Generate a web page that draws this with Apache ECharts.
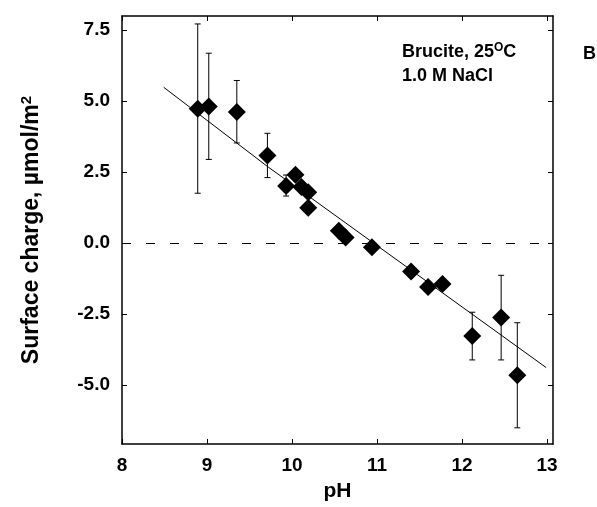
<!DOCTYPE html>
<html>
<head>
<meta charset="utf-8">
<script src="https://cdn.jsdelivr.net/npm/echarts@6/dist/echarts.min.js"></script>
<style>
html,body{margin:0;padding:0;background:#fff;}
#chart{width:597px;height:507px;}
</style>
</head>
<body>
<div id="chart"></div>
<script>
// ---- data ----
var phValues = [8.89, 9.02, 9.35, 9.71, 9.93, 10.04, 10.11, 10.19, 10.19, 10.55, 10.63, 10.94, 11.40, 11.60, 11.77, 12.12, 12.46, 12.65];
var chargeValues = [4.73, 4.81, 4.62, 3.09, 2.01, 2.41, 1.98, 1.79, 1.25, 0.44, 0.20, -0.14, -1.00, -1.54, -1.44, -3.27, -2.62, -4.65];

var errPh   = [8.89, 9.02, 9.35, 9.71, 9.93, 12.12, 12.46, 12.65];
var errLow  = [1.76, 2.95, 3.53, 2.31, 1.66, -4.11, -4.11, -6.50];
var errHigh = [7.72, 6.69, 5.73, 3.87, 2.40, -2.43, -1.13, -2.80];

var fitPh = [8.49, 9.72, 12.99];
var fitCharge = [5.49, 2.68, -4.38];

var xTicks = [8, 9, 10, 11, 12, 13];
var yTicks = [-5, -2.5, 0, 2.5, 5, 7.5];

var xMin = 7.999, xMax = 13.07;
var yMin = -7.07, yMax = 8.0;

// ---- build ----
var points = phValues.map(function (x, i) { return [x, chargeValues[i]]; });
var errData = errPh.map(function (x, i) { return [x, errLow[i], errHigh[i]]; });
var fitData = fitPh.map(function (x, i) { return [x, fitCharge[i]]; });

var FONT = '"Liberation Sans", Arial, sans-serif';
var chart = echarts.init(document.getElementById('chart'), null, {renderer: 'canvas'});

var axisLine = {show: true, onZero: false, lineStyle: {color: '#000', width: 1.5}};

chart.setOption({
  backgroundColor: '#fff',
  animation: false,
  grid: {left: 122, top: 16, right: 44, bottom: 60, containLabel: false},
  xAxis: [{
    type: 'value', min: xMin, max: xMax, position: 'bottom',
    axisLine: axisLine,
    axisTick: {show: true, inside: true, length: 5, lineStyle: {color: '#000', width: 1}, customValues: xTicks},
    axisLabel: {show: true, customValues: xTicks, margin: 12, color: '#000', fontFamily: FONT, fontWeight: 'bold', fontSize: 19},
    splitLine: {show: false},
    name: 'pH', nameLocation: 'middle', nameGap: 37,
    nameTextStyle: {color: '#000', fontFamily: FONT, fontWeight: 'bold', fontSize: 21}
  }, {
    type: 'value', min: xMin, max: xMax, position: 'top',
    axisLine: axisLine,
    axisTick: {show: true, inside: true, length: 5, lineStyle: {color: '#000', width: 1}, customValues: xTicks},
    axisLabel: {show: false},
    splitLine: {show: false}
  }],
  yAxis: [{
    type: 'value', min: yMin, max: yMax, position: 'left',
    axisLine: axisLine,
    axisTick: {show: true, inside: true, length: 5, lineStyle: {color: '#000', width: 1}, customValues: yTicks},
    axisLabel: {show: true, customValues: yTicks, margin: 12, color: '#000', fontFamily: FONT, fontWeight: 'bold', fontSize: 19,
      formatter: function (v) { return v.toFixed(1); }},
    splitLine: {show: false},
    name: '{t|Surface charge, \u00b5mol/m}{sup|2}', nameLocation: 'middle', nameGap: 77, nameRotate: 90,
    nameTextStyle: {color: '#000', fontFamily: FONT, fontWeight: 'bold', fontSize: 23,
      rich: {
        t: {color: '#000', fontFamily: FONT, fontWeight: 'bold', fontSize: 23},
        sup: {color: '#000', fontFamily: FONT, fontWeight: 'bold', fontSize: 15, verticalAlign: 'top', padding: [0, 0, 11, 0]}
      }}
  }, {
    type: 'value', min: yMin, max: yMax, position: 'right',
    axisLine: axisLine,
    axisTick: {show: true, inside: true, length: 5, lineStyle: {color: '#000', width: 1}, customValues: yTicks},
    axisLabel: {show: false},
    splitLine: {show: false}
  }],
  graphic: [
    {type: 'text', left: 402, top: 42, style: {text: '{a|Brucite, 25}{s|O}{a|C}', rich: {
      a: {fontFamily: FONT, fontWeight: 'bold', fontSize: 18, fill: '#000'},
      s: {fontFamily: FONT, fontWeight: 'bold', fontSize: 12, fill: '#000', padding: [0, 0, 9, 0]}
    }}},
    {type: 'text', left: 402, top: 67, style: {text: '1.0 M NaCl', fontFamily: FONT, fontWeight: 'bold', fontSize: 18, fill: '#000'}},
    {type: 'text', left: 583, top: 45, style: {text: 'B', fontFamily: FONT, fontWeight: 'bold', fontSize: 18, fill: '#000'}}
  ],
  series: [{
    type: 'line', data: fitData, showSymbol: false, symbol: 'none',
    lineStyle: {color: '#000', width: 1}, z: 2,
    markLine: {
      silent: true, symbol: ['none', 'none'], label: {show: false},
      lineStyle: {color: '#000', width: 1, type: [9, 15], opacity: 1},
      emphasis: {disabled: true},
      data: [{yAxis: 0}]
    }
  }, {
    type: 'custom', data: errData, z: 3,
    encode: {x: 0, y: [1, 2]},
    renderItem: function (params, api) {
      var x = api.value(0);
      var lo = api.coord([x, api.value(1)]);
      var hi = api.coord([x, api.value(2)]);
      var c = 3;
      var st = {stroke: '#000', lineWidth: 1};
      return {type: 'group', children: [
        {type: 'line', shape: {x1: lo[0], y1: lo[1], x2: hi[0], y2: hi[1]}, style: st},
        {type: 'line', shape: {x1: lo[0] - c, y1: lo[1], x2: lo[0] + c, y2: lo[1]}, style: st},
        {type: 'line', shape: {x1: hi[0] - c, y1: hi[1], x2: hi[0] + c, y2: hi[1]}, style: st}
      ]};
    }
  }, {
    type: 'scatter', data: points, symbol: 'diamond', symbolSize: 18, z: 4,
    itemStyle: {color: '#000', opacity: 1}
  }]
});
</script>
</body>
</html>
